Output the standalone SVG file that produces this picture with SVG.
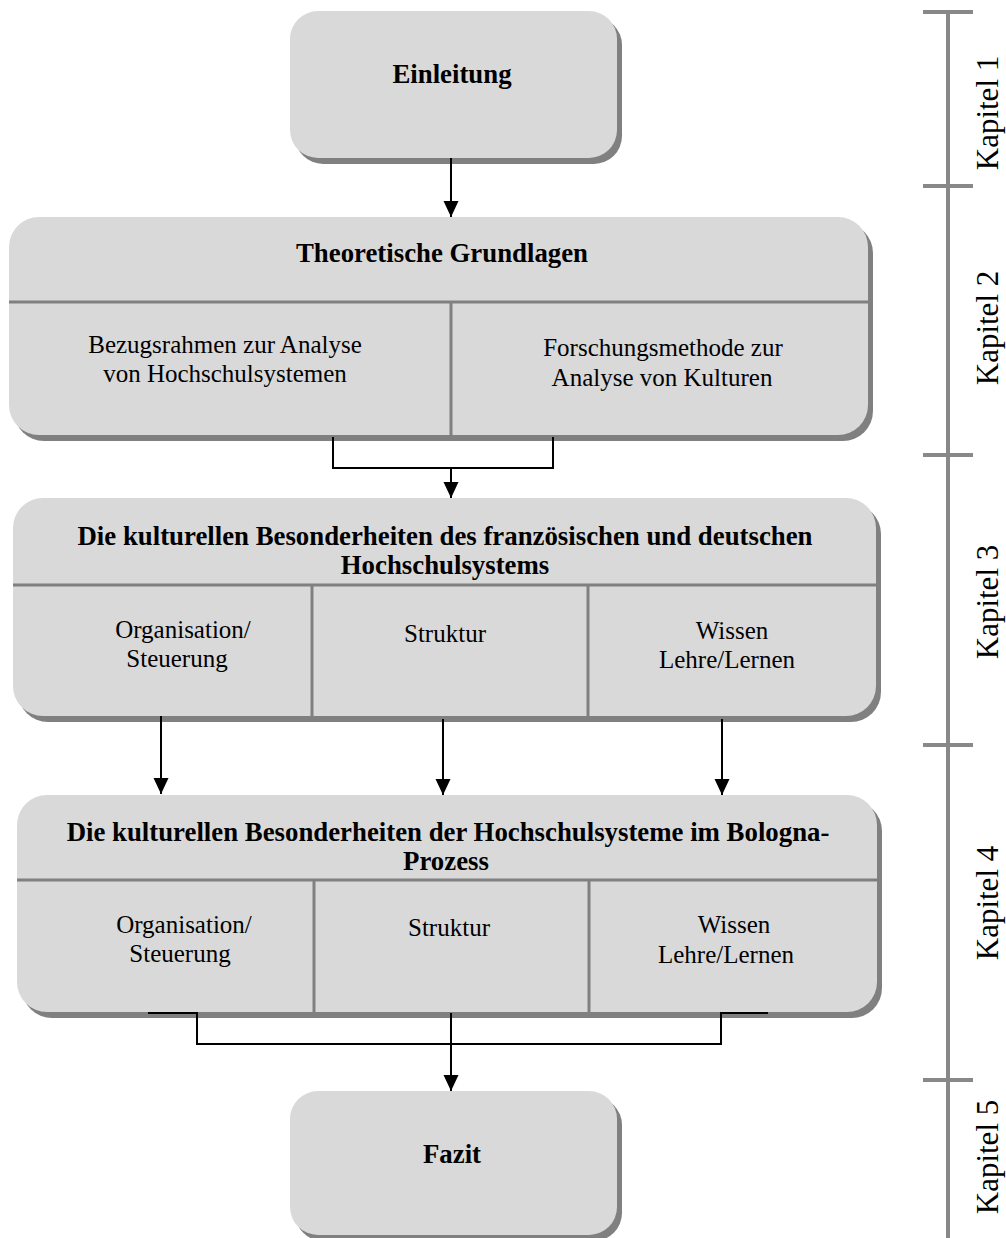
<svg xmlns="http://www.w3.org/2000/svg" width="1006" height="1238" viewBox="0 0 1006 1238">
<style>
.sh{fill:#808080}
.bx{fill:#d9d9d9}
.dv{stroke:#808080;stroke-width:3;fill:none}
.t{font-family:"Liberation Serif","Times New Roman",serif;font-size:25px;fill:#000;text-anchor:middle}
.b{font-weight:bold;font-size:26.8px}
.cn{stroke:#000;stroke-width:2;fill:none}
.ru{stroke:#888;stroke-width:4;fill:none}
.k{font-family:"Liberation Serif","Times New Roman",serif;font-size:31px;fill:#000;text-anchor:middle}
</style>
<defs>
<marker id="ah" markerWidth="16" markerHeight="16" refX="16" refY="8" orient="auto" markerUnits="userSpaceOnUse">
<path d="M0,0.5 L16,8 L0,15.5 z" fill="#000"/>
</marker>
</defs>
<rect width="1006" height="1238" fill="#fff"/>

<g id="ruler">
<line class="ru" x1="948" y1="12" x2="948" y2="1238"/>
<line class="ru" x1="923" y1="12" x2="973" y2="12"/>
<line class="ru" x1="923" y1="186" x2="973" y2="186"/>
<line class="ru" x1="923" y1="455" x2="973" y2="455"/>
<line class="ru" x1="923" y1="745" x2="973" y2="745"/>
<line class="ru" x1="923" y1="1080" x2="973" y2="1080"/>
<text class="k" transform="translate(998,113) rotate(-90)">Kapitel 1</text>
<text class="k" transform="translate(998,328) rotate(-90)">Kapitel 2</text>
<text class="k" transform="translate(998,602) rotate(-90)">Kapitel 3</text>
<text class="k" transform="translate(998,903) rotate(-90)">Kapitel 4</text>
<text class="k" transform="translate(998,1157) rotate(-90)">Kapitel 5</text>
</g>

<g id="einleitung">
<rect class="sh" x="295" y="17" width="327" height="147" rx="28"/>
<rect class="bx" x="290" y="11" width="327" height="147" rx="28"/>
<text class="t b" x="452" y="83">Einleitung</text>
</g>

<g id="grundlagen">
<rect class="sh" x="14" y="223" width="859" height="218" rx="30"/>
<rect class="bx" x="9" y="217" width="859" height="218" rx="30"/>
<line class="dv" x1="9" y1="302" x2="868" y2="302"/>
<line class="dv" x1="451" y1="302" x2="451" y2="435"/>
<text class="t b" x="442" y="262">Theoretische Grundlagen</text>
<text class="t" x="225" y="353">Bezugsrahmen zur Analyse</text>
<text class="t" x="225" y="382">von Hochschulsystemen</text>
<text class="t" x="663" y="356">Forschungsmethode zur</text>
<text class="t" x="662" y="386">Analyse von Kulturen</text>
</g>

<g id="besonderheiten">
<rect class="sh" x="18" y="504" width="863" height="218" rx="30"/>
<rect class="bx" x="13" y="498" width="863" height="218" rx="30"/>
<line class="dv" x1="13" y1="585" x2="876" y2="585"/>
<line class="dv" x1="312" y1="585" x2="312" y2="716"/>
<line class="dv" x1="588" y1="585" x2="588" y2="716"/>
<text class="t b" x="445" y="545">Die kulturellen Besonderheiten des französischen und deutschen</text>
<text class="t b" x="445" y="574">Hochschulsystems</text>
<text class="t" x="183" y="638">Organisation/</text>
<text class="t" x="177" y="667">Steuerung</text>
<text class="t" x="445" y="642">Struktur</text>
<text class="t" x="732" y="639">Wissen</text>
<text class="t" x="727" y="668">Lehre/Lernen</text>
</g>

<g id="bologna">
<rect class="sh" x="22" y="801" width="860" height="217" rx="30"/>
<rect class="bx" x="17" y="795" width="860" height="217" rx="30"/>
<line class="dv" x1="17" y1="880" x2="877" y2="880"/>
<line class="dv" x1="314" y1="880" x2="314" y2="1012"/>
<line class="dv" x1="589" y1="880" x2="589" y2="1012"/>
<text class="t b" x="448" y="841">Die kulturellen Besonderheiten der Hochschulsysteme im Bologna-</text>
<text class="t b" x="446" y="870">Prozess</text>
<text class="t" x="184" y="933">Organisation/</text>
<text class="t" x="180" y="962">Steuerung</text>
<text class="t" x="449" y="936">Struktur</text>
<text class="t" x="734" y="933">Wissen</text>
<text class="t" x="726" y="963">Lehre/Lernen</text>
</g>

<g id="fazit">
<rect class="sh" x="295" y="1097" width="327" height="144" rx="28"/>
<rect class="bx" x="290" y="1091" width="327" height="144" rx="28"/>
<text class="t b" x="452" y="1163">Fazit</text>
</g>

<g id="connectors">
<line class="cn" x1="451" y1="158" x2="451" y2="217" marker-end="url(#ah)"/>
<polyline class="cn" points="333,437 333,468 553,468 553,437"/>
<line class="cn" x1="451" y1="468" x2="451" y2="498" marker-end="url(#ah)"/>
<line class="cn" x1="161" y1="716" x2="161" y2="794" marker-end="url(#ah)"/>
<line class="cn" x1="443" y1="719" x2="443" y2="795" marker-end="url(#ah)"/>
<line class="cn" x1="722" y1="719" x2="722" y2="795" marker-end="url(#ah)"/>
<polyline class="cn" points="148,1013 197,1013 197,1044 721,1044 721,1013 768,1013"/>
<line class="cn" x1="451" y1="1013" x2="451" y2="1091" marker-end="url(#ah)"/>
</g>
</svg>
